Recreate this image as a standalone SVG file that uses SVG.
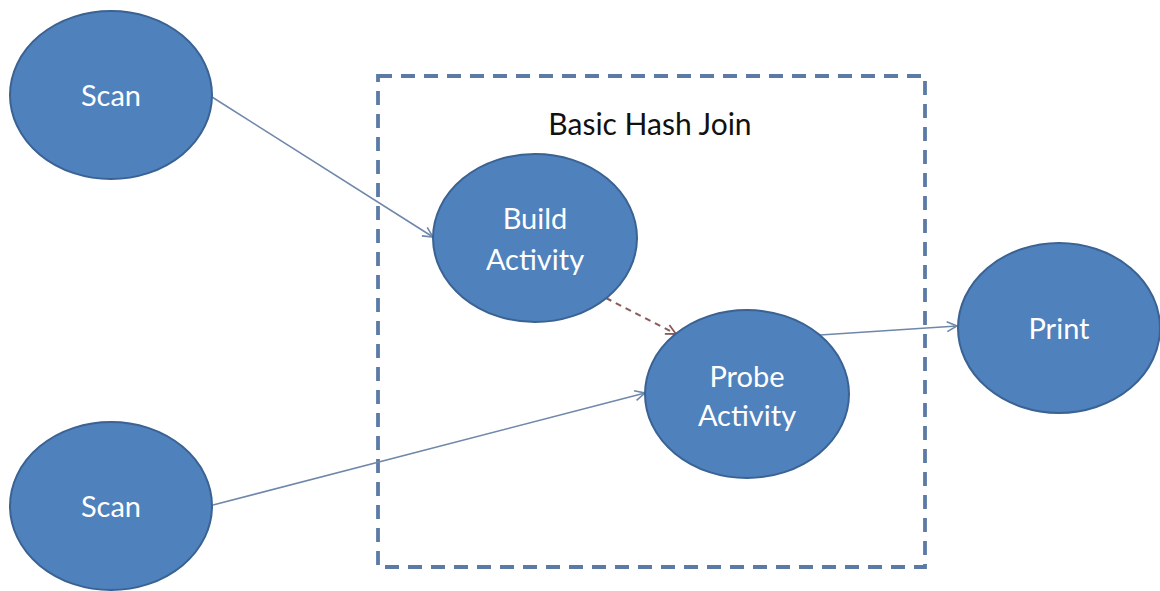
<svg xmlns="http://www.w3.org/2000/svg" width="1160" height="591" viewBox="0 0 1160 591">
  <style>
    .node ellipse { fill: #4F81BD; stroke: #3A6293; stroke-width: 2; }
    .node text { fill: #FFFFFF; font-family: Lato, "Liberation Sans", sans-serif; font-size: 29px; text-anchor: middle; }
    .edge { fill: none; stroke: #6F87A9; stroke-width: 1.6; }
    .edge.dep { stroke: #8B5A5A; stroke-width: 2; stroke-dasharray: 6 5; }
    .frame { fill: none; stroke: #5B7BA6; stroke-width: 3.8; stroke-dasharray: 14 9; }
    .title { fill: #111111; font-family: Lato, "Liberation Sans", sans-serif; font-size: 30px; text-anchor: middle; }
  </style>
  <defs>
    <marker id="open" viewBox="0 0 12 12" refX="11" refY="6" markerWidth="12" markerHeight="12" markerUnits="userSpaceOnUse" orient="auto">
      <path d="M1,1 L11,6 L1,11" fill="none" stroke="#6F87A9" stroke-width="1.6"/>
    </marker>
    <marker id="openRed" viewBox="0 0 12 12" refX="11" refY="6" markerWidth="12" markerHeight="12" markerUnits="userSpaceOnUse" orient="auto">
      <path d="M1,1 L11,6 L1,11" fill="none" stroke="#8B5A5A" stroke-width="1.8"/>
    </marker>
  </defs>

  <!-- dashed boundary of the join operator -->
  <g id="hash-join-frame">
    <rect class="frame" x="378" y="76" width="547" height="491"/>
    <text class="title" x="650" y="135">Basic Hash Join</text>
  </g>

  <!-- connectors -->
  <g id="connectors">
    <line class="edge" x1="212" y1="97" x2="433" y2="237" marker-end="url(#open)"/>
    <line class="edge" x1="213" y1="505" x2="645" y2="393" marker-end="url(#open)"/>
    <line class="edge dep" x1="606" y1="298" x2="676" y2="334" marker-end="url(#openRed)"/>
    <line class="edge" x1="820" y1="335" x2="957" y2="326" marker-end="url(#open)"/>
  </g>

  <g id="scan-top" class="node">
    <ellipse cx="111" cy="95" rx="101" ry="84"/>
    <text x="111" y="106">Scan</text>
  </g>

  <g id="scan-bottom" class="node">
    <ellipse cx="111" cy="506" rx="101" ry="84"/>
    <text x="111" y="517">Scan</text>
  </g>

  <g id="build-activity" class="node">
    <ellipse cx="535" cy="238" rx="102" ry="84"/>
    <text x="535" y="229">Build</text>
    <text x="535" y="270">Activity</text>
  </g>

  <g id="probe-activity" class="node">
    <ellipse cx="747" cy="394" rx="102" ry="84"/>
    <text x="747" y="387">Probe</text>
    <text x="747" y="426">Activity</text>
  </g>

  <g id="print" class="node">
    <ellipse cx="1059" cy="328" rx="101" ry="85"/>
    <text x="1059" y="339">Print</text>
  </g>
</svg>
